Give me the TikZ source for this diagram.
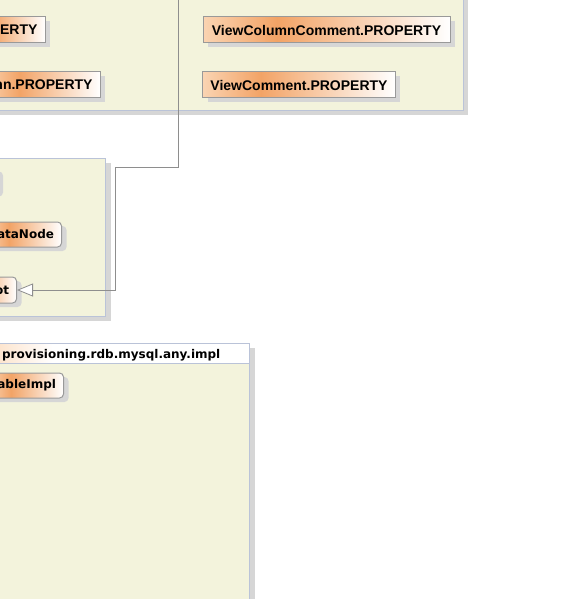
\documentclass[tikz,border=0pt]{standalone}
\usepackage{fontspec}
\setmainfont{DejaVu Sans}
\newfontfamily\arialfont{Liberation Sans}
\usetikzlibrary{arrows.meta,shadows}
\definecolor{pkgfill}{HTML}{F3F3DC}
\definecolor{pkgline}{HTML}{BAC3D8}
\definecolor{shadowgrey}{HTML}{D6D6D6}
\definecolor{boxline}{HTML}{999999}
\definecolor{linkgrey}{HTML}{8E8E8E}
\pgfdeclarehorizontalshading{classfill}{100bp}{rgb(0bp)=(0.98,0.83,0.70); rgb(25bp)=(0.98,0.83,0.70); rgb(40bp)=(0.95,0.64,0.40); rgb(75bp)=(1,1,1); rgb(100bp)=(1,1,1)}
\pgfdeclarehorizontalshading{titlefill}{100bp}{rgb(0bp)=(0.99,0.88,0.78); rgb(25bp)=(0.99,0.88,0.78); rgb(37bp)=(1,1,1); rgb(100bp)=(1,1,1)}
\tikzset{
  pkg/.style={draw=pkgline, fill=pkgfill, line width=1pt,
    drop shadow={shadow xshift=5pt, shadow yshift=-5pt, fill=shadowgrey, opacity=1}},
  classbox/.style={draw=boxline, line width=1pt, shading=classfill, minimum height=26pt,
    inner ysep=0pt, inner xsep=7.5pt, font={\arialfont\bfseries\fontsize{14}{16}\selectfont},
    drop shadow={shadow xshift=5pt, shadow yshift=-4pt, fill=shadowgrey, opacity=1}},
  implbox/.style={classbox, rounded corners=4pt, font={\bfseries\fontsize{12}{14}\selectfont}},
  cutbox/.style={anchor=east, text width=#1, align=right},
  umlgen/.style={draw=linkgrey, line width=0.8pt, -{Triangle[open, fill=white, length=16pt, width=13pt]}}
}
\begin{document}
\begin{tikzpicture}[x=1pt, y=-1pt]
  \useasboundingbox (0,0) rectangle (585,599);
  \clip (0,0) rectangle (585,599);

  %%%%% PACKAGES %%%%%
  \draw[pkg] (-10,-10) rectangle (463,110.5);
  \draw[pkg] (-10,158) rectangle (105.5,316);
  \draw[pkg] (-10,343) rectangle (249.5,620);
  \fill[shading=titlefill] (-9.5,343.5) rectangle (249,363);
  \draw[pkgline, line width=1pt] (-10,363) -- (249.5,363);
  \draw[pkgline, line width=1pt] (-10,343) rectangle (249.5,620);
  \node[anchor=base east, inner sep=0pt, font={\bfseries\fontsize{12}{14}\selectfont}] (implTitle) at (220.5,358.5) {provisioning.rdb.mysql.any.impl};

  %%%%% CLASSES %%%%%
  \node[classbox, cutbox=60pt] (tableProp) at (45.5,30) {PERTY};
  \node[classbox, cutbox=100pt] (columnProp) at (100.5,85) {nn.PROPERTY};
  \node[classbox, minimum width=247pt] (viewColumnComment) at (326.5,30) {ViewColumnComment.PROPERTY};
  \node[classbox, minimum width=192pt] (viewComment) at (299,85) {ViewComment.PROPERTY};

  \node[implbox, cutbox=60pt, minimum height=25pt] (hiddenNode) at (-1.5,180) {};
  \node[implbox, cutbox=60pt, minimum height=25pt] (dataNode) at (62,234.5) {ataNode};
  \node[implbox, cutbox=40pt] (rootNode) at (17,290) {ot};
  \node[implbox, cutbox=60pt, minimum height=25pt] (tableImpl) at (64,385.5) {ableImpl};

  %%%%% LINK %%%%%
  \coordinate (linkSrc) at (178,-5);
  \coordinate (kneeA) at (178,167);
  \coordinate (kneeB) at (115,167);
  \draw[umlgen] (linkSrc) -- (kneeA) -- (kneeB) |- (rootNode.east);
\end{tikzpicture}
\end{document}
